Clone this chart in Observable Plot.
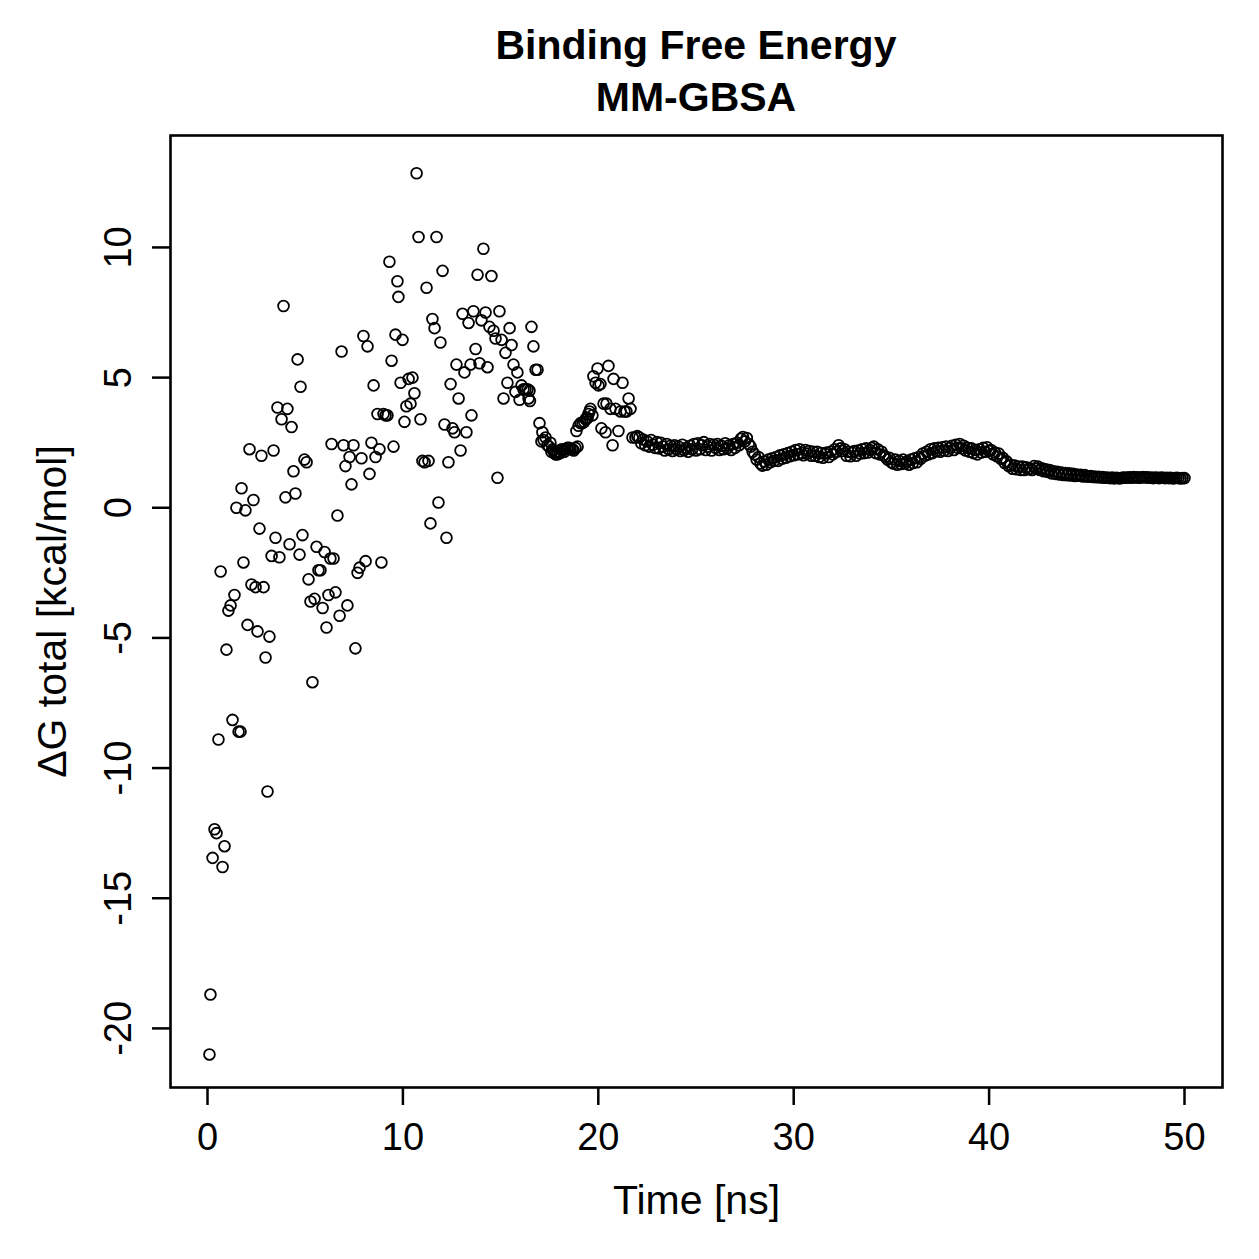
<!DOCTYPE html>
<html>
<head>
<meta charset="utf-8">
<script src="https://cdn.jsdelivr.net/npm/d3@7"></script>
<script src="https://cdn.jsdelivr.net/npm/@observablehq/plot@0.6"></script>
<style>
  html, body { margin: 0; padding: 0; background: #ffffff; }
  #title {
    width: 1259px; height: 120px; box-sizing: border-box;
    padding: 19px 37px 0 170px;
    font: bold 41px/52px "Liberation Sans", Arial, Helvetica, sans-serif;
    text-align: center; color: #000;
  }
</style>
</head>
<body>
<div id="title">Binding Free Energy<br>MM-GBSA</div>
<div id="chart"></div>
<script>
// Scattered early-phase samples: time (ns) and ΔG total (kcal/mol)
const scatterTime = [
  0.10, 0.15, 0.26, 0.36, 0.46, 0.56, 0.67, 0.77, 0.87, 0.97,
  1.07, 1.18, 1.28, 1.38, 1.48, 1.59, 1.69, 1.74, 1.84, 1.94,
  2.05, 2.15, 2.25, 2.35, 2.46, 2.56, 2.66, 2.76, 2.87, 2.97,
  3.07, 3.17, 3.28, 3.38, 3.48, 3.58, 3.68, 3.79, 3.89, 3.99,
  4.09, 4.20, 4.30, 4.40, 4.50, 4.61, 4.71, 4.76, 4.86, 4.96,
  5.07, 5.17, 5.27, 5.37, 5.48, 5.58, 5.68, 5.78, 5.89, 5.99,
  6.09, 6.19, 6.29, 6.35, 6.45, 6.55, 6.65, 6.76, 6.86, 6.96,
  7.06, 7.16, 7.27, 7.37, 7.47, 7.57, 7.68, 7.78, 7.88, 7.98,
  8.09, 8.19, 8.29, 8.39, 8.50, 8.60, 8.70, 8.80, 8.90, 9.01,
  9.11, 9.21, 9.31, 9.42, 9.52, 9.62, 9.72, 9.77, 9.88, 9.98,
  10.08, 10.18, 10.29, 10.39, 10.49, 10.59, 10.70, 10.80, 10.90, 11.00,
  11.11, 11.21, 11.31, 11.41, 11.51, 11.62, 11.72, 11.82, 11.92, 12.03,
  12.13, 12.23, 12.33, 12.44, 12.54, 12.64, 12.74, 12.85, 12.95, 13.05,
  13.15, 13.25, 13.36, 13.46, 13.51, 13.61, 13.72, 13.82, 13.92, 14.02,
  14.12, 14.23, 14.33, 14.43, 14.53, 14.64, 14.74, 14.84, 14.94, 15.05,
  15.15, 15.25, 15.35, 15.46, 15.56, 15.66, 15.76, 15.86, 15.97, 16.07,
  16.17, 16.27, 16.38, 16.48, 16.58, 16.68, 16.79, 16.89, 16.43, 16.50,
  16.99, 17.09, 17.14, 17.30, 17.40, 17.55, 17.66, 17.71, 17.81, 17.91,
  18.01, 18.17, 18.32, 18.42, 18.58, 18.68, 18.83, 18.88, 18.99, 19.09,
  19.19, 19.35, 19.45, 19.55, 19.60, 19.70, 19.75, 19.86, 19.96, 20.01,
  20.11, 20.16, 20.27, 20.37, 20.42, 20.52, 20.62, 20.73, 20.78, 20.88,
  21.03, 21.14, 21.24, 21.34, 21.44, 21.55, 21.65, 21.75, 21.90, 22.00,
  17.20, 17.48, 17.60, 17.76, 17.86, 18.06, 18.12, 18.26, 18.50, 18.74,
  18.94, 19.28, 19.40, 19.50
];
const scatterDG = [
  -21.0, -18.7, -13.45, -12.35, -12.5, -8.9, -2.45, -13.8, -13.0, -5.45,
  -3.95, -3.75, -8.15, -3.35, 0.0, -8.6, -8.6, 0.75, -2.1, -0.1,
  -4.5, 2.25, -2.95, 0.3, -3.05, -4.75, -0.8, 2.0, -3.05, -5.75,
  -10.9, -4.95, -1.85, 2.2, -1.15, 3.85, -1.9, 3.4, 7.75, 0.4,
  3.8, -1.4, 3.1, 1.4, 0.55, 5.7, -1.8, 4.65, -1.05, 1.85,
  1.75, -2.75, -3.6, -6.7, -3.5, -1.5, -2.4, -2.4, -3.85, -1.7,
  -4.6, -3.35, -1.95, 2.45, -1.95, -3.25, -0.3, -4.15, 6.0, 2.4,
  1.6, -3.75, 1.95, 0.9, 2.4, -5.4, -2.5, -2.3, 1.9, 6.6,
  -2.05, 6.2, 1.3, 2.5, 4.7, 1.95, 3.6, 2.25, -2.1, 3.6,
  3.55, 3.55, 9.45, 5.65, 2.35, 6.65, 8.7, 8.1, 4.8, 6.45,
  3.3, 3.9, 4.95, 4.0, 5.0, 4.4, 12.85, 10.4, 3.4, 1.8,
  1.75, 8.45, 1.8, -0.6, 7.25, 6.9, 10.4, 0.2, 6.35, 9.1,
  3.2, -1.15, 1.75, 4.75, 3.05, 2.9, 5.5, 4.2, 2.2, 7.45,
  5.2, 2.9, 7.1, 5.5, 3.55, 7.55, 6.1, 8.95, 5.55, 7.2,
  9.95, 7.5, 5.4, 6.95, 8.9, 6.8, 6.5, 1.15, 7.55, 6.45,
  4.2, 5.95, 4.8, 6.9, 6.25, 5.5, 4.45, 5.2, 4.15, 4.7,
  4.55, 4.55, 4.55, 4.5, 6.95, 6.2, 5.3, 5.3, 4.2, 4.1,
  3.25, 2.55, 2.9, 2.7, 2.4, 2.5, 2.25, 2.2, 2.05, 2.05,
  2.15, 2.2, 2.25, 2.3, 2.25, 2.25, 2.3, 2.95, 3.15, 3.25,
  3.25, 3.4, 3.45, 3.7, 3.8, 3.55, 5.05, 4.8, 5.35, 4.7,
  4.75, 3.05, 4.0, 2.9, 4.0, 5.45, 3.8, 2.4, 4.95, 3.8,
  2.95, 3.7, 4.8, 3.7, 3.7, 4.2, 3.8, 2.7, 2.7, 2.75,
  2.6, 2.35, 2.15, 2.1, 2.15, 2.1, 2.25, 2.15, 2.3, 2.2,
  2.35, 3.3, 3.45, 3.6
];

// Converged trajectory, sampled every 0.1 ns from 22.1 ns to 50.0 ns
const traceStart = 22.1;
const traceStep = 0.1;
const traceDG = [
  2.70, 2.48, 2.62, 2.40, 2.55, 2.35, 2.60, 2.42, 2.30, 2.52,
  2.28, 2.50, 2.35, 2.20, 2.45, 2.25, 2.38, 2.18, 2.40, 2.25,
  2.35, 2.18, 2.42, 2.22, 2.30, 2.15, 2.38, 2.25, 2.45, 2.20,
  2.48, 2.25, 2.40, 2.52, 2.22, 2.35, 2.45, 2.20, 2.42, 2.30,
  2.45, 2.22, 2.38, 2.25, 2.48, 2.28, 2.40, 2.22, 2.45, 2.30,
  2.50, 2.40, 2.65, 2.72, 2.55, 2.68, 2.45, 2.35, 2.15, 2.05,
  1.85, 1.95, 1.70, 1.62, 1.78, 1.65, 1.85, 1.75, 1.90, 1.80,
  1.95, 1.80, 2.02, 1.88, 2.05, 1.92, 2.10, 1.98, 2.15, 2.02,
  2.22, 2.05, 2.25, 2.10, 2.02, 2.22, 2.08, 2.18, 2.00, 2.15,
  2.00, 2.15, 1.95, 2.10, 1.92, 2.08, 2.12, 1.95, 2.15, 2.05,
  2.25, 2.15, 2.40, 2.28, 2.18, 2.25, 2.00, 2.15, 1.98, 2.12,
  2.18, 2.00, 2.20, 2.08, 2.25, 2.10, 2.28, 2.12, 2.22, 2.30,
  2.35, 2.10, 2.25, 2.05, 2.15, 2.02, 1.95, 1.85, 1.92, 1.75,
  1.70, 1.85, 1.65, 1.80, 1.68, 1.85, 1.70, 1.78, 1.65, 1.85,
  1.72, 1.90, 1.75, 1.95, 1.88, 2.08, 2.00, 2.15, 2.05, 2.25,
  2.10, 2.28, 2.18, 2.30, 2.15, 2.32, 2.20, 2.35, 2.18, 2.30,
  2.38, 2.22, 2.42, 2.30, 2.45, 2.28, 2.38, 2.20, 2.30, 2.15,
  2.28, 2.10, 2.22, 2.05, 2.25, 2.12, 2.30, 2.15, 2.32, 2.18,
  2.22, 2.05, 2.12, 1.98, 2.08, 1.88, 1.92, 1.72, 1.78, 1.60,
  1.65, 1.50, 1.62, 1.48, 1.58, 1.45, 1.58, 1.45, 1.55, 1.48,
  1.52, 1.45, 1.60, 1.50, 1.58, 1.45, 1.52, 1.40, 1.48, 1.38,
  1.45, 1.32, 1.40, 1.30, 1.38, 1.28, 1.35, 1.26, 1.33, 1.25,
  1.32, 1.24, 1.30, 1.22, 1.28, 1.23, 1.27, 1.20, 1.26, 1.20,
  1.20, 1.22, 1.18, 1.20, 1.17, 1.19, 1.16, 1.18, 1.15, 1.16,
  1.15, 1.14, 1.16, 1.13, 1.15, 1.14, 1.13, 1.15, 1.16, 1.15,
  1.16, 1.17, 1.15, 1.18, 1.16, 1.17, 1.15, 1.17, 1.18, 1.16,
  1.17, 1.15, 1.16, 1.14, 1.16, 1.15, 1.14, 1.16, 1.15, 1.14,
  1.15, 1.14, 1.15, 1.13, 1.14, 1.15, 1.14, 1.13, 1.14, 1.14
];

const xTicks = [0, 10, 20, 30, 40, 50];
const yTicks = [-20, -15, -10, -5, 0, 5, 10];
const xLabel = "Time [ns]";
const yLabel = "ΔG total [kcal/mol]";

const points = scatterTime.map((t, i) => ({t, g: scatterDG[i]}))
  .concat(traceDG.map((g, i) => ({t: +(traceStart + i * traceStep).toFixed(2), g})));

const font = "'Liberation Sans', Arial, Helvetica, sans-serif";

const chart = Plot.plot({
  width: 1259,
  height: 1139,
  marginTop: 15,
  marginBottom: 172,
  marginLeft: 170,
  marginRight: 37,
  style: {fontFamily: font, fontSize: "38px", color: "#000", background: "#fff"},
  x: {domain: [-1.894, 51.945]},
  y: {domain: [-22.27, 14.30]},
  marks: [
    Plot.dot(points, {x: "t", y: "g", r: 5.4, fill: "none", stroke: "#000", strokeWidth: 1.8}),
    Plot.frame({stroke: "#000", strokeWidth: 2.6}),
    Plot.axisX(xTicks, {anchor: "bottom", tickSize: 18, strokeWidth: 2.5, fill: "none", label: null}),
    Plot.axisY(yTicks, {anchor: "left", tickSize: 18, strokeWidth: 2.5, fill: "none", label: null}),
    Plot.text(xTicks, {x: d => d, text: d => String(d), frameAnchor: "bottom", dy: 50, lineAnchor: "middle", textAnchor: "middle", fontSize: 38}),
    Plot.text(yTicks, {y: d => d, text: d => String(d), frameAnchor: "left", dx: -52, rotate: -90, lineAnchor: "middle", textAnchor: "middle", fontSize: 38}),
    Plot.text([xLabel], {text: d => d, frameAnchor: "bottom", dy: 113, lineAnchor: "middle", textAnchor: "middle", fontSize: 41}),
    Plot.text([yLabel], {text: d => d, frameAnchor: "left", dx: -118, rotate: -90, lineAnchor: "middle", textAnchor: "middle", fontSize: 41})
  ]
});

document.getElementById("chart").appendChild(chart);
</script>
</body>
</html>
